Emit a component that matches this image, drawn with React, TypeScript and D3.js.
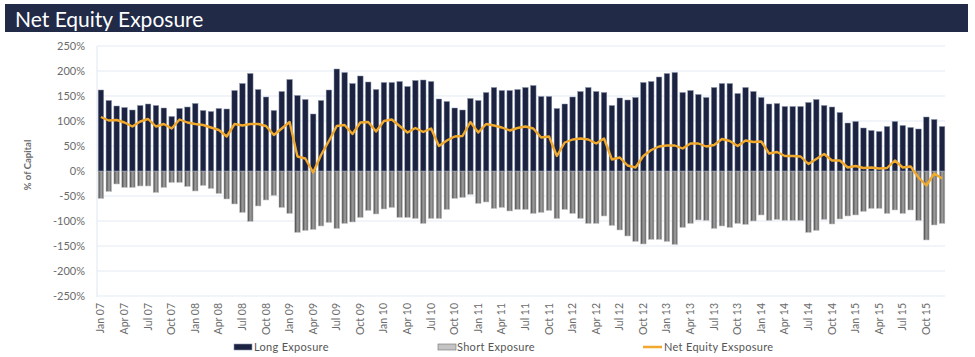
import React from "react";
import * as d3 from "d3";

const months = ["Jan", "Feb", "Mar", "Apr", "May", "Jun", "Jul", "Aug", "Sep", "Oct", "Nov", "Dec"];
const years = ["07", "08", "09", "10", "11", "12", "13", "14", "15"];
const categories: string[] = years.flatMap((y) => months.map((m) => `${m} ${y}`));

const longExposure = [
  162, 141, 130, 127, 122, 131, 134, 131, 126, 109, 125, 128, 135, 121, 119, 125, 124, 161, 175, 195, 163, 148, 121, 159, 183, 151, 143, 114, 141, 162,
  204, 197, 175, 190, 178, 163, 177, 177, 179, 169, 181, 182, 179, 144, 139, 126, 122, 145, 141, 157, 167, 161, 161, 163, 167, 171, 149, 149, 125, 134,
  148, 159, 167, 159, 157, 131, 146, 142, 147, 177, 179,
  188, 195, 197, 157, 161, 153, 147, 167, 175, 175, 155, 167, 159, 147, 134, 135, 129, 129, 129, 137, 143, 131, 128, 117, 96, 99, 86, 81, 79, 89,
  99, 91, 87, 84, 108, 103, 89,
];

const shortExposure = [
  -55, -41, -26, -33, -33, -30, -30, -43, -33, -23, -23, -31, -40, -29, -35, -45, -56, -66, -83, -101, -70, -58, -49, -73, -85, -123, -119, -117, -110, -103,
  -115, -105, -102, -93, -79, -86, -76, -73, -93, -93, -95, -105, -95, -95, -77, -55, -53, -47, -65, -62, -75, -73, -80, -77, -77, -85, -83, -79, -95, -77,
  -85, -95, -105, -105, -90, -109, -118, -130, -141, -146, -137,
  -137, -141, -147, -113, -105, -98, -99, -115, -110, -113, -105, -107, -100, -88, -99, -97, -99, -99, -99, -123, -119, -97, -106, -96, -90, -88, -81, -75, -75, -85,
  -78, -85, -78, -99, -138, -108, -105,
];

const netExposure = [
  108, 101, 102, 97, 89, 99, 104, 89, 94, 85, 103, 97, 94, 92, 87, 82, 69, 94, 91, 94, 94, 90, 72, 85, 98, 29, 25, -3, 32, 60,
  90, 92, 74, 97, 98, 79, 100, 103, 90, 77, 86, 78, 85, 50, 61, 69, 70, 98, 77, 94, 91, 87, 81, 86, 89, 85, 67, 69, 30, 57,
  63, 65, 63, 55, 65, 23, 27, 11, 7, 30, 42,
  49, 51, 51, 45, 55, 55, 49, 52, 64, 60, 50, 61, 58, 59, 35, 38, 30, 30, 29, 14, 24, 34, 21, 21, 7, 10, 6, 7, 5, 6,
  21, 7, 9, -13, -29, -5, -15,
];

const yTicks = [250, 200, 150, 100, 50, 0, -50, -100, -150, -200, -250];
const legendLabels = ["Long Exposure", "Short Exposure", "Net Equity Exsposure"];
const title = "Net Equity Exposure";

const W = 975;
const H = 357;
const FONT = "Lato, 'Open Sans', sans-serif";

export default function App() {
  const x = d3
    .scaleBand<number>()
    .domain(d3.range(categories.length))
    .range([97, 946])
    .paddingInner(0.3)
    .paddingOuter(0.15);
  const y = d3.scaleLinear().domain([-250, 250]).range([296, 46]);
  const bw = x.bandwidth();
  const cx = (i: number) => (x(i) as number) + bw / 2;

  const line = d3
    .line<number>()
    .x((_, i) => cx(i))
    .y((d) => y(d))
    .curve(d3.curveLinear);

  return (
    <svg width={W} height={H} style={{ position: "absolute", left: 0, top: 0, background: "#fff" }}>
      <defs>
        <linearGradient id="shortGrad" x1="0" x2="1" y1="0" y2="0">
          <stop offset="0%" stopColor="#3c3c3c" />
          <stop offset="40%" stopColor="#8e8e8e" />
          <stop offset="60%" stopColor="#9c9c9c" />
          <stop offset="100%" stopColor="#555555" />
        </linearGradient>
      </defs>
      {/* title bar */}
      <rect x={5} y={4} width={963} height={28} fill="#212a47" />
      <text x={15} y={27} fill="#ffffff" fontFamily={FONT} fontSize={21}>
        {title}
      </text>

      {/* grid */}
      {yTicks.map((t) => (
        <g key={t}>
          <line x1={97} x2={945} y1={y(t)} y2={y(t)} stroke="#e3eaf2" strokeWidth={1} />
          <text
            x={85}
            y={y(t)}
            dy="0.35em"
            textAnchor="end"
            fontFamily={FONT}
            fontSize={11}
            fill="#6b6b6b"
          >
            {`${t}%`}
          </text>
        </g>
      ))}
      <line x1={97} x2={97} y1={46} y2={297} stroke="#dfe7ef" strokeWidth={1} />

      <text
        transform={`translate(31,165) rotate(-90)`}
        textAnchor="middle"
        fontFamily={FONT}
        fontSize={9.5}
        fontWeight="bold"
        fill="#6b6b6b"
      >
        % of Capital
      </text>

      {/* short bars */}
      {shortExposure.map((v, i) => (
        <rect
          key={`s${i}`}
          x={x(i)}
          y={y(0)}
          width={bw}
          height={y(v) - y(0)}
          fill="url(#shortGrad)"
          stroke="#c8c8c8"
          strokeWidth={0.6}
        />
      ))}
      {/* long bars */}
      {longExposure.map((v, i) => (
        <rect
          key={`l${i}`}
          x={x(i)}
          y={y(v)}
          width={bw}
          height={y(0) - y(v)}
          fill="#1b2341"
          stroke="#8994ab"
          strokeWidth={0.5}
        />
      ))}

      {/* net line */}
      <path d={line(netExposure) || ""} fill="none" stroke="#f0a92c" strokeWidth={2.4} strokeLinejoin="round" />

      {/* x labels */}
      {categories.map((c, i) =>
        i % 3 === 0 ? (
          <text
            key={c}
            transform={`translate(${cx(i) + 3.5},303) rotate(-90)`}
            textAnchor="end"
            fontFamily={FONT}
            fontSize={10.5}
            fill="#6b6b6b"
          >
            {c}
          </text>
        ) : null
      )}

      {/* legend */}
      <g fontFamily={FONT} fontSize={11} fill="#555" letterSpacing={0.3}>
        <rect x={234} y={344} width={18} height={6} fill="#1b2341" stroke="#8994ab" strokeWidth={0.6} />
        <text x={254} y={347} dy="0.35em">{legendLabels[0]}</text>
        <rect x={438} y={344} width={18} height={6} fill="#c4c4c4" stroke="#6f6f6f" strokeWidth={0.6} />
        <text x={457} y={347} dy="0.35em">{legendLabels[1]}</text>
        <line x1={643} x2={662} y1={347} y2={347} stroke="#f0a92c" strokeWidth={2.5} />
        <text x={664} y={347} dy="0.35em">{legendLabels[2]}</text>
      </g>
    </svg>
  );
}
